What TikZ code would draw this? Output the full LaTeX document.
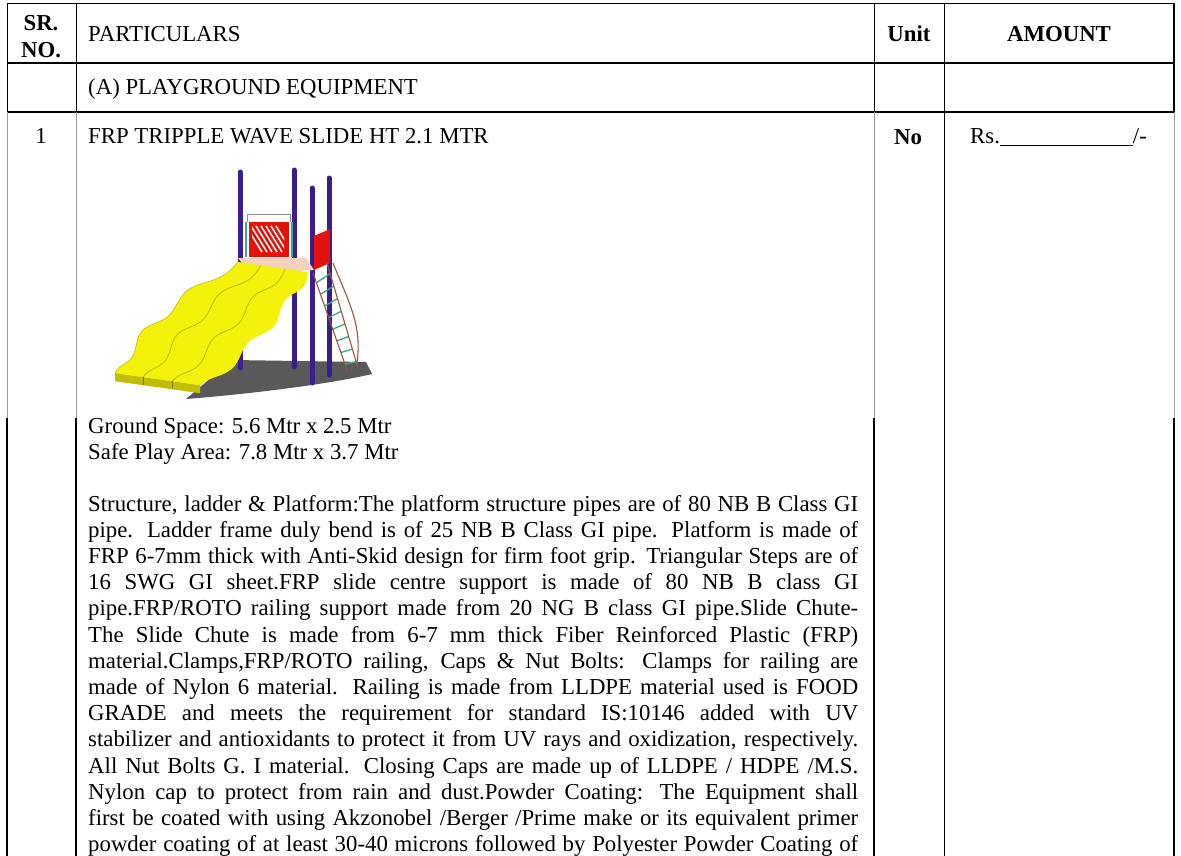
\documentclass[tikz,border=0pt]{standalone}
\usepackage{fontspec}
\setmainfont{Liberation Serif}

\definecolor{postpurple}{HTML}{3B1E8E}
\definecolor{panelred}{HTML}{E3120B}
\definecolor{slideyellow}{HTML}{F4F20A}
\definecolor{slideedge}{HTML}{C2BD00}
\definecolor{railbrown}{HTML}{A0523C}
\definecolor{stepgreen}{HTML}{3DAA8C}
\definecolor{deckbeige}{HTML}{F3D2BE}

\tikzset{
  celltext/.style={anchor=base west, inner sep=0pt, font=\fontsize{22.8}{26.2}\selectfont},
  cellbold/.style={anchor=base, inner sep=0pt, font=\fontsize{22.8}{26.2}\selectfont\bfseries},
  thinrule/.style={line width=0.9pt},
  heavyrule/.style={line width=2.2pt},
  fadedrule/.style={line width=0.9pt, draw=black!40},
  post/.style={draw=postpurple, line width=5pt, line cap=round},
}

\newcommand{\bodyline}[3]{
  \node[celltext] (#1) at (88,#2) {\makebox[770pt][s]{#3}};
}
\newcommand{\colrules}[3]{
  \foreach \x in {7,76,874,1174}{
    \draw[#1] (\x,#2) -- (\x,#3);
  }
  \draw[thinrule] (944,#2) -- (944,#3);
}

\begin{document}
\begin{tikzpicture}[x=1pt,y=-1pt,
  declare function={
    px(\t,\s)=(1-\s)*(238-120*\t-75*\t*(1-\t))+\s*(308-105*\t+40*\t*(1-\t))+2.8*sin(1000*\t);
    py(\t,\s)=(1-\s)*(262+114*\t)+\s*(272+116*\t)+2.8*sin(1000*\t);
  }]
  \useasboundingbox (0,0) rectangle (1181,856);

  % table rules
  \draw[thinrule] (7,3) -- (1175,3);
  \draw[heavyrule] (7,63) -- (1175,63);
  \draw[heavyrule] (7,112) -- (1175,112);
  \colrules{thinrule}{3}{112}
  \draw[heavyrule] (1174,3) -- (1174,112);
  \colrules{fadedrule}{112}{418}
  \colrules{heavyrule}{418}{856}

  % header
  \node[cellbold] (sr) at (41,31) {SR.};
  \node[cellbold] (no) at (41,57.5) {NO.};
  \node[celltext] (particulars) at (88,42) {PARTICULARS};
  \node[cellbold] (unit) at (909,42) {Unit};
  \node[cellbold] (amount) at (1059,42) {AMOUNT};
  \node[celltext] (secta) at (88,95) {(A) PLAYGROUND EQUIPMENT};

  % item 1
  \node[anchor=base, inner sep=0pt, font=\fontsize{22.8}{26.2}\selectfont] (itemno) at (41,144) {1};
  \node[celltext] (itemname) at (88,144) {FRP TRIPPLE WAVE SLIDE HT 2.1 MTR};
  \node[cellbold] (itemunit) at (908,145) {No};
  \node[celltext] (itemamt) at (970,144) {Rs.\underline{\hspace{133pt}}/-};

  % slide picture
  \fill[black!65] (186,399) .. controls (250,394) and (330,384) .. (372,374)
    -- (366,362) -- (232,360) -- cycle;
  \foreach \x/\a/\b in {240/172/368, 294/170/367, 312/188/383, 329/178/375}{
    \draw[post] (\x,\a) -- (\x,\b);
  }
  \fill[panelred] (249,222) rectangle (289,257);
  \begin{scope}
    \clip (252,225) rectangle (284,254);
    \foreach \k in {0,...,6}{
      \draw[white, line width=1.5pt] (246+5*\k,226) -- (262+5*\k,252);
    }
  \end{scope}
  \draw[stepgreen, line width=1.2pt] (246,222) -- (246,257) (292,222) -- (292,257);
  \draw[black!45, line width=0.8pt] (247,222) -- (247,214) -- (290,214) -- (290,222);
  \fill[panelred] (314,236) -- (330,229) -- (330,263) -- (314,270) -- cycle;
  \fill[deckbeige] (238,258) -- (306,258) -- (314,270) -- (250,274) -- cycle;
  \fill[slideyellow] plot[domain=0:1, samples=60] ({px(\x,0)},{py(\x,0)})
    -- plot[domain=1:0, samples=60] ({px(\x,1)},{py(\x,1)}) -- cycle;
  \foreach \s in {0.33,0.67}{
    \draw[slideedge, line width=0.9pt] plot[domain=0:1, samples=60] ({px(\x,\s)},{py(\x,\s)});
  }
  \draw[slideedge, line width=0.6pt] plot[domain=0:1, samples=60] ({px(\x,0)},{py(\x,0)});
  \fill[slideedge] ({px(1,0)},{py(1,0)}) -- ({px(1,1)},{py(1,1)})
    -- ({px(1,1)},{py(1,1)+8}) -- ({px(1,0)},{py(1,0)+8}) -- cycle;
  \foreach \s in {0.33,0.67}{
    \draw[black!40!slideedge, line width=0.8pt] ({px(1,\s)},{py(1,\s)}) -- ({px(1,\s)},{py(1,\s)+8});
  }
  \foreach \t in {0.1,0.22,...,0.95}{
    \draw[stepgreen, line width=1.4pt] ({313+34*\t},{273+97*\t}) -- ({327+31*\t},{263+105*\t});
  }
  \draw[railbrown, line width=1.1pt] (313,273) -- (347,370) (327,263) -- (358,368);
  \draw[railbrown, line width=1.1pt] (333,263) .. controls (350,305) and (362,325) .. (357,363);

  % description
  \node[celltext] (ground) at (88,433) {Ground Space: 5.6 Mtr x 2.5 Mtr};
  \node[celltext] (safe) at (88,459.2) {Safe Play Area: 7.8 Mtr x 3.7 Mtr};
  \bodyline{l1}{511}{Structure, ladder \& Platform:The platform structure pipes are of 80 NB B Class GI}
  \bodyline{l2}{537.2}{pipe. Ladder frame duly bend is of 25 NB B Class GI pipe. Platform is made of}
  \bodyline{l3}{563.4}{FRP 6-7mm thick with Anti-Skid design for firm foot grip. Triangular Steps are of}
  \bodyline{l4}{589.6}{16 SWG GI sheet.FRP slide centre support is made of 80 NB B class GI}
  \bodyline{l5}{615.8}{pipe.FRP/ROTO railing support made from 20 NG B class GI pipe.Slide Chute-}
  \bodyline{l6}{642}{The Slide Chute is made from 6-7 mm thick Fiber Reinforced Plastic (FRP)}
  \bodyline{l7}{668.2}{material.Clamps,FRP/ROTO railing, Caps \& Nut Bolts: Clamps for railing are}
  \bodyline{l8}{694.4}{made of Nylon 6 material. Railing is made from LLDPE material used is FOOD}
  \bodyline{l9}{720.6}{GRADE and meets the requirement for standard IS:10146 added with UV}
  \bodyline{l10}{746.8}{stabilizer and antioxidants to protect it from UV rays and oxidization, respectively.}
  \bodyline{l11}{773}{All Nut Bolts G. I material. Closing Caps are made up of LLDPE / HDPE /M.S.}
  \bodyline{l12}{799.2}{Nylon cap to protect from rain and dust.Powder Coating: The Equipment shall}
  \bodyline{l13}{825.4}{first be coated with using Akzonobel /Berger /Prime make or its equivalent primer}
  \bodyline{l14}{851.6}{powder coating of at least 30-40 microns followed by Polyester Powder Coating of}
\end{tikzpicture}
\end{document}
